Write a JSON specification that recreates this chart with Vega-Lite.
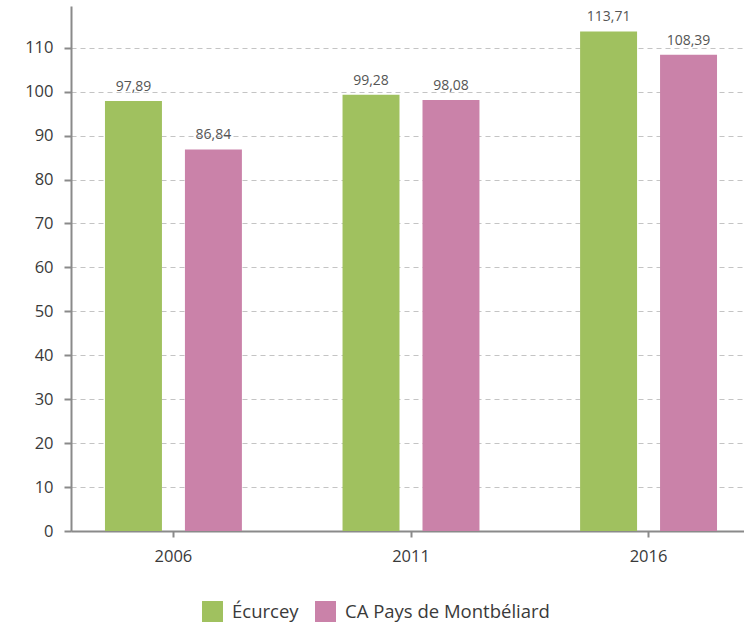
{
  "$schema": "https://vega.github.io/schema/vega-lite/v6.json",
  "width": 673,
  "height": 525,
  "autosize": {"type": "none"},
  "padding": {"left": 71, "top": 6, "right": 0, "bottom": 93},
  "config": {
    "locale": {"number": {"decimal": ",", "thousands": " ", "grouping": [3], "currency": ["", " €"]}},
    "view": {"stroke": null},
    "font": "Open Sans"
  },
  "data": {
    "values": [
      {"annee": "2006", "serie": "Écurcey", "valeur": 97.89},
      {"annee": "2006", "serie": "CA Pays de Montbéliard", "valeur": 86.84},
      {"annee": "2011", "serie": "Écurcey", "valeur": 99.28},
      {"annee": "2011", "serie": "CA Pays de Montbéliard", "valeur": 98.08},
      {"annee": "2016", "serie": "Écurcey", "valeur": 113.71},
      {"annee": "2016", "serie": "CA Pays de Montbéliard", "valeur": 108.39}
    ]
  },
  "encoding": {
    "x": {
      "field": "annee", "type": "nominal", "title": null,
      "scale": {"range": [0, 680], "paddingInner": 0.4236, "paddingOuter": 0.143},
      "axis": {
        "labelAngle": 0, "labelFontSize": 16.5, "labelColor": "#3a3a3a", "labelPadding": 11,
        "domainColor": "#8a8a8a", "domainWidth": 2, "tickColor": "#8a8a8a", "tickWidth": 2, "tickSize": 6,
        "grid": false
      }
    },
    "xOffset": {
      "field": "serie", "type": "nominal",
      "scale": {"domain": ["Écurcey", "CA Pays de Montbéliard"], "paddingInner": 0.2875, "paddingOuter": 0}
    },
    "y": {
      "field": "valeur", "type": "quantitative", "title": null,
      "scale": {"domain": [0, 119.5], "nice": false},
      "axis": {
        "values": [0, 10, 20, 30, 40, 50, 60, 70, 80, 90, 100, 110],
        "labelFontSize": 16.5, "labelColor": "#3a3a3a", "labelPadding": 11,
        "domainColor": "#8a8a8a", "domainWidth": 2, "tickColor": "#8a8a8a", "tickWidth": 2, "tickSize": 7,
        "grid": true, "gridColor": "#c4c4c4", "gridDash": [5, 4], "gridWidth": 1.2
      }
    }
  },
  "layer": [
    {
      "mark": {"type": "bar"},
      "encoding": {
        "color": {
          "field": "serie", "type": "nominal",
          "scale": {"domain": ["Écurcey", "CA Pays de Montbéliard"], "range": ["#a0c15f", "#ca82a9"]},
          "legend": {
            "title": null, "orient": "none", "direction": "horizontal",
            "legendX": 131, "legendY": 595,
            "symbolType": "square", "symbolSize": 440, "symbolStrokeWidth": 0, "symbolOpacity": 1,
            "labelFontSize": 18.5, "labelColor": "#3a3a3a", "labelOffset": 9, "columnPadding": 16, "labelLimit": 400
          }
        }
      }
    },
    {
      "mark": {"type": "text", "baseline": "bottom", "dy": -7, "fontSize": 14, "color": "#555555"},
      "encoding": {
        "text": {"field": "valeur", "type": "quantitative", "format": ".2f"}
      }
    }
  ]
}
